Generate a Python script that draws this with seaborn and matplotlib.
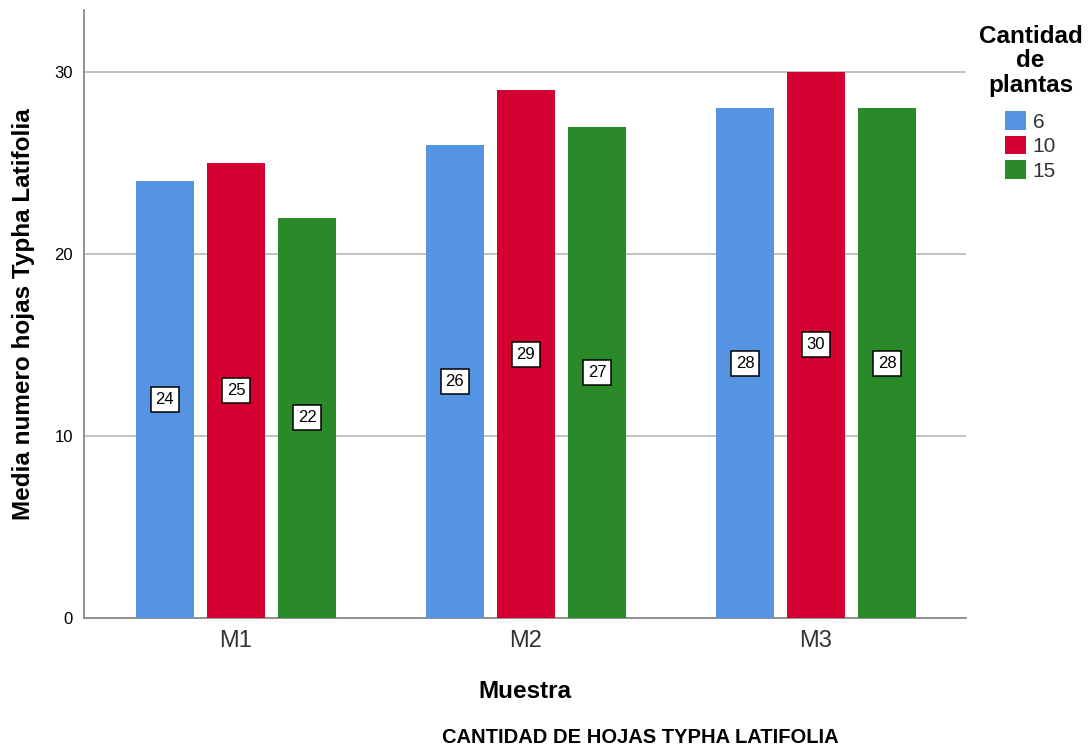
import matplotlib
matplotlib.use("Agg")
import matplotlib.pyplot as plt
import seaborn as sns
import pandas as pd

muestras = ["M1", "M2", "M3"]
cantidades = ["6", "10", "15"]
valores_6 = [24, 26, 28]
valores_10 = [25, 29, 30]
valores_15 = [22, 27, 28]
colores = ["#5594E3", "#D50032", "#2A8A2A"]

rows = []
for cant, vals in zip(cantidades, [valores_6, valores_10, valores_15]):
    for m, v in zip(muestras, vals):
        rows.append({"Muestra": m, "Cantidad": cant, "Media": v})
df = pd.DataFrame(rows)

sns.set_theme(style="white")
plt.rcParams["font.family"] = ["Liberation Sans", "DejaVu Sans"]
plt.rcParams["text.color"] = "black"
plt.rcParams["axes.labelcolor"] = "black"
plt.rcParams["ytick.color"] = "black"

fig = plt.figure(figsize=(10.92, 7.49), dpi=100)
ax = fig.add_axes([0.0769, 0.1749, 0.8077, 0.8117])

sns.barplot(data=df, x="Muestra", y="Media", hue="Cantidad",
            order=muestras, hue_order=cantidades, palette=colores,
            saturation=1, width=0.735, gap=0.18, errorbar=None, ax=ax,
            edgecolor="none", zorder=3)

ax.set_ylim(0, 33.4)
ax.set_xlim(-0.524, 2.517)
ax.set_yticks([0, 10, 20, 30])
ax.set_yticklabels(["0", "10", "20", "30"], fontsize=12)
for t in ax.get_xticklabels():
    t.set_fontsize(17)
    t.set_color("#333333")
ax.tick_params(axis="y", length=0, pad=8)
ax.tick_params(axis="x", length=0, pad=9)
for y in [10, 20, 30]:
    ax.axhline(y, color="#b8b8b8", linewidth=1.2, zorder=1)

for s in ["top", "right"]:
    ax.spines[s].set_visible(False)
for s in ["left", "bottom"]:
    ax.spines[s].set_color("#888888")
    ax.spines[s].set_linewidth(1.3)

for cont in ax.containers:
    for bar in cont:
        h = bar.get_height()
        ax.text(bar.get_x() + bar.get_width() / 2, h / 2, f"{h:.0f}",
                ha="center", va="center", fontsize=12, color="black", zorder=5,
                bbox=dict(boxstyle="square,pad=0.3", facecolor="white",
                          edgecolor="black", linewidth=1.1))

ax.set_xlabel("Muestra", fontsize=17.5, fontweight="bold", labelpad=20)
ax.set_ylabel("Media numero hojas Typha Latifolia", fontsize=17.5,
              fontweight="bold", labelpad=14)

leg = ax.legend(title="Cantidad\nde\nplantas", loc="upper left",
                bbox_to_anchor=(0.998, 1.0), frameon=False, fontsize=15,
                title_fontproperties={"weight": "bold", "size": 17.5},
                handlelength=1.0, handleheight=1.0, handletextpad=0.3,
                labelspacing=0.2, borderpad=0.2)
leg._legend_box.align = "center"
leg._legend_box.sep = 10
leg.get_title().set_multialignment("center")
leg.get_title().set_linespacing(1.1)
leg.get_title().set_color("black")
for t in leg.get_texts():
    t.set_color("#333333")

fig.text(0.586, 0.003, "CANTIDAD DE HOJAS TYPHA LATIFOLIA", ha="center",
         va="bottom", fontsize=14.5, fontweight="bold")

fig.savefig("out.png", dpi=100)
